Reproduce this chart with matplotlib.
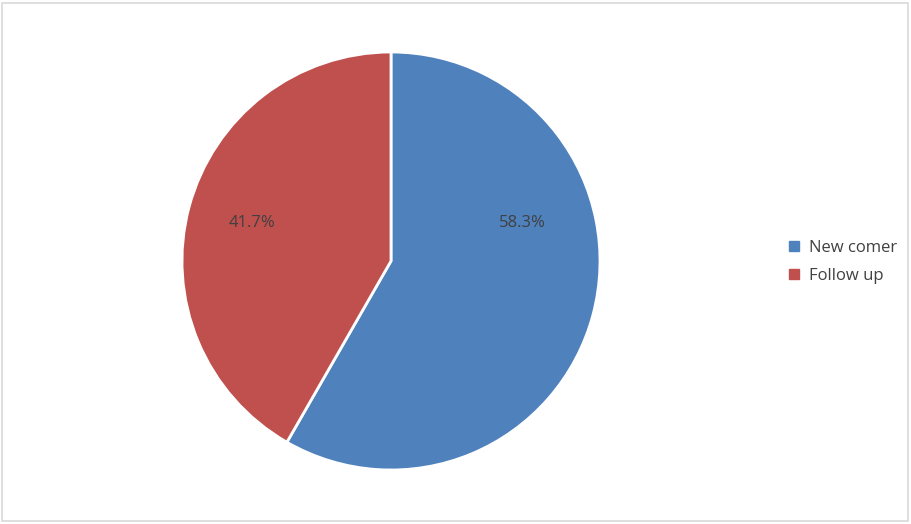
import matplotlib.pyplot as plt
import matplotlib.patches as mpatches
from matplotlib.lines import Line2D

labels = ['New comer', 'Follow up']
values = [58.3, 41.7]
colors = ['#4F81BD', '#C0504D']

# where Excel put the percentage labels (axes data units, radius = 1)
pct_pos = [(0.63, 0.18), (-0.665, 0.18)]

plt.rcParams['font.family'] = ['Open Sans', 'DejaVu Sans']

dpi = 100
fig = plt.figure(figsize=(9.11, 5.24), dpi=dpi)
fig.patch.set_facecolor('white')

# light frame around the whole chart
fig.add_artist(mpatches.Rectangle((2 / 911, 3 / 524), 906 / 911, 518 / 524,
                                  transform=fig.transFigure, fill=False,
                                  edgecolor='#D9D9D9', linewidth=1.2))

cx, cy, r = 391, 261, 209
ax = fig.add_axes([(cx - r) / 911, (524 - cy - r) / 524, 2 * r / 911, 2 * r / 524])
wedges, texts, autotexts = ax.pie(values, colors=colors, startangle=90, counterclock=False,
                                  autopct='%1.1f%%', pctdistance=0.68,
                                  wedgeprops=dict(edgecolor='white', linewidth=2),
                                  textprops=dict(color='#404040', fontsize=12))
for t, pos in zip(autotexts, pct_pos):
    t.set_position(pos)
ax.set_xlim(-1.0, 1.0)
ax.set_ylim(-1.0, 1.0)
ax.set_aspect('equal')
ax.axis('off')

handles = [Line2D([0], [0], marker='s', linestyle='none', markersize=7,
                  markerfacecolor=c, markeredgecolor=c) for c in colors]
leg = fig.legend(handles, labels, loc='center left', bbox_to_anchor=(772 / 911, 1 - 262 / 524),
                 frameon=False, fontsize=12, handlelength=0.8, handletextpad=0.5,
                 labelspacing=0.75, labelcolor='#404040')

fig.savefig('out.png', dpi=dpi)
